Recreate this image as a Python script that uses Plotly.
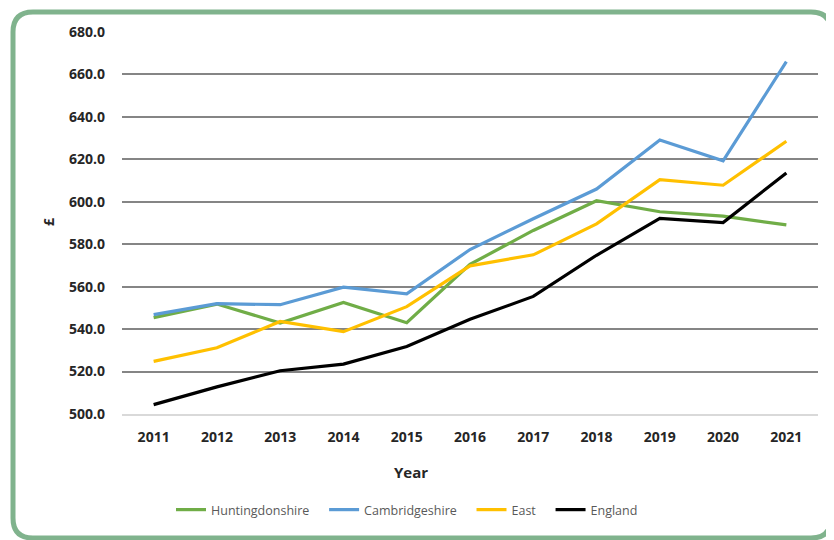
import plotly.graph_objects as go

years = ["2011", "2012", "2013", "2014", "2015", "2016", "2017", "2018", "2019", "2020", "2021"]
huntingdonshire = [545.4, 551.8, 542.9, 552.6, 543.0, 570.5, 586.5, 600.5, 595.3, 593.2, 589.1]
cambridgeshire = [546.8, 552.0, 551.5, 559.8, 556.6, 577.5, 592.0, 606.0, 629.1, 619.3, 666.0]
east = [524.8, 531.2, 543.6, 538.8, 550.6, 569.8, 575.0, 589.6, 610.4, 607.8, 628.5]
england = [504.4, 512.8, 520.4, 523.5, 531.8, 544.6, 555.4, 574.8, 592.2, 590.2, 613.6]

series_names = ["Huntingdonshire", "Cambridgeshire", "East", "England"]
series_values = [huntingdonshire, cambridgeshire, east, england]
series_colors = ["#70AD47", "#5B9BD5", "#FFC000", "#000000"]

# the page body has an 8px margin, so the figure is drawn 8px in from the window corner
OFF = 8
W, H = 834 - OFF, 540 - OFF
# plot area in window pixels: x 122..818, y 32..414
L, R, T, B = 122 - OFF, 834 - 818, 32 - OFF, 540 - 414
pw, ph = W - L - R, H - T - B


def px(x):
    return (x - OFF - L) / pw


def py(y):
    return (H - B - (y - OFF)) / ph


PAD = "\u00a0\u00a0\u00a0"  # legend entry spacing

fig = go.Figure()
for name, vals, col in zip(series_names, series_values, series_colors):
    fig.add_trace(go.Scatter(x=years, y=vals, mode="lines", name=name + PAD,
                             line=dict(color=col, width=3.2)))

# rounded frame (window pixel coordinates)
x0, x1, y0, y1, r = 13, 831, 12, 538, 20
path = (f"M {px(x0)},{py(y0 + r)} L {px(x0)},{py(y1 - r)} Q {px(x0)},{py(y1)} {px(x0 + r)},{py(y1)} "
        f"L {px(x1 - r)},{py(y1)} Q {px(x1)},{py(y1)} {px(x1)},{py(y1 - r)} "
        f"L {px(x1)},{py(y0 + r)} Q {px(x1)},{py(y0)} {px(x1 - r)},{py(y0)} "
        f"L {px(x0 + r)},{py(y0)} Q {px(x0)},{py(y0)} {px(x0)},{py(y0 + r)} Z")
fig.add_shape(type="path", path=path, xref="paper", yref="paper",
              line=dict(color="#80B38D", width=5), layer="below")

fig.add_annotation(text="<b>Year</b>", x=px(411), y=py(472), xref="paper", yref="paper",
                   showarrow=False, font=dict(family="Open Sans", size=15, color="#262626"),
                   xanchor="center", yanchor="middle")
fig.add_annotation(text="<b>£</b>", x=px(48), y=py(222), xref="paper", yref="paper",
                   showarrow=False, textangle=-90,
                   font=dict(family="Open Sans", size=14, color="#262626"),
                   xanchor="center", yanchor="middle")

fig.update_layout(
    width=W, height=H,
    margin=dict(l=L, r=R, t=T, b=B),
    paper_bgcolor="white", plot_bgcolor="white",
    showlegend=True,
    legend=dict(orientation="h", x=px(412), y=py(510), xanchor="center", yanchor="middle",
                font=dict(family="Open Sans", size=12.5, color="#595959"),
                itemwidth=30, traceorder="normal", bgcolor="rgba(0,0,0,0)"),
    font=dict(family="Open Sans", color="#262626"),
)
fig.update_xaxes(type="category", range=[-0.5, len(years) - 0.5], showgrid=False,
                 showline=True, linecolor="#D9D9D9", linewidth=2,
                 ticks="", tickfont=dict(family="Open Sans", size=14, color="#262626", weight="bold"),
                 ticklabelstandoff=9, fixedrange=True)
fig.update_yaxes(range=[500, 680], dtick=20, tickformat=".1f", showgrid=True,
                 gridcolor="#858585", gridwidth=1.5, zeroline=False, showline=False, ticks="",
                 tickfont=dict(family="Open Sans", size=14, color="#262626", weight="bold"),
                 ticklabelstandoff=16, fixedrange=True)

fig.write_html("out.html")
